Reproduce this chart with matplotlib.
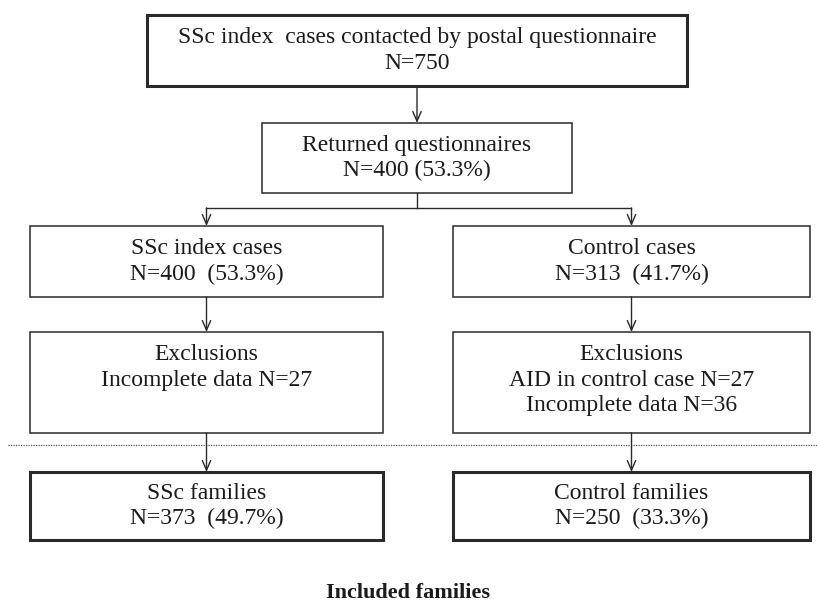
import matplotlib.pyplot as plt
from matplotlib.patches import Rectangle

plt.rcParams['font.family'] = ['Liberation Serif', 'DejaVu Serif']

# flowchart content
stages = ["contacted", "returned", "ssc_cases", "control_cases",
          "ssc_excl", "control_excl", "ssc_fam", "control_fam"]
titles = ["SSc index  cases contacted by postal questionnaire",
          "Returned questionnaires",
          "SSc index cases", "Control cases",
          "Exclusions", "Exclusions",
          "SSc families", "Control families"]
counts = ["N=750", "N=400 (53.3%)",
          "N=400  (53.3%)", "N=313  (41.7%)",
          "Incomplete data N=27", "AID in control case N=27",
          "N=373  (49.7%)", "N=250  (33.3%)"]
extra = {"control_excl": "Incomplete data N=36"}
footer = "Included families"

# box geometry in pixels: x0, y0, x1, y1, line width
boxes = {
    "contacted": (147, 15, 687, 86, 2.2),
    "returned": (262, 123, 572, 193, 1.1),
    "ssc_cases": (30, 226, 383, 297, 1.1),
    "control_cases": (453, 226, 810, 297, 1.1),
    "ssc_excl": (30, 332, 383, 433, 1.1),
    "control_excl": (453, 332, 810, 433, 1.1),
    "ssc_fam": (30, 472, 383, 540, 2.2),
    "control_fam": (453, 472, 810, 540, 2.2),
}
line_col = "#2a2a2a"
fs = 17
lh = 25.5

fig = plt.figure(figsize=(8.17, 6.05), dpi=100)
ax = fig.add_axes([0, 0, 1, 1])
ax.set_xlim(0, 817)
ax.set_ylim(605, 0)
ax.axis("off")

for key, title, cnt in zip(stages, titles, counts):
    x0, y0, x1, y1, lw = boxes[key]
    ax.add_patch(Rectangle((x0, y0), x1 - x0, y1 - y0, fill=False,
                           ec=line_col, lw=lw))
    cx = (x0 + x1) / 2
    lines = [title, cnt] + ([extra[key]] if key in extra else [])
    if key.endswith("excl"):
        ty = y0 + 23
    else:
        ty = (y0 + y1) / 2 - lh / 2 * (len(lines) - 1)
    for i, t in enumerate(lines):
        ax.text(cx, ty + i * lh, t, ha="center", va="center",
                fontsize=fs, color="#1a1a1a")


def arrow(x, ya, yb):
    ax.annotate("", xy=(x, yb), xytext=(x, ya),
                arrowprops=dict(arrowstyle="->,head_length=0.7,head_width=0.3",
                                color=line_col, lw=1.0, shrinkA=0, shrinkB=0))


xl = (30 + 383) / 2
xr = (453 + 810) / 2
xm = (262 + 572) / 2
arrow(xm, 86, 123)
# split from returned questionnaires
ax.plot([xm, xm], [193, 208], color=line_col, lw=1.0)
ax.plot([xl, xr], [208, 208], color=line_col, lw=1.0)
arrow(xl, 208, 226)
arrow(xr, 208, 226)
arrow(xl, 297, 332)
arrow(xr, 297, 332)
arrow(xl, 433, 472)
arrow(xr, 433, 472)

# dotted separator
ax.plot([8, 817], [445, 445], color="#555555", lw=0.9, ls=(0, (1, 1)))

ax.text(408, 593, footer, ha="center", va="center", fontsize=16,
        fontweight="bold", color="#1a1a1a")

fig.savefig("out.png", dpi=100)
